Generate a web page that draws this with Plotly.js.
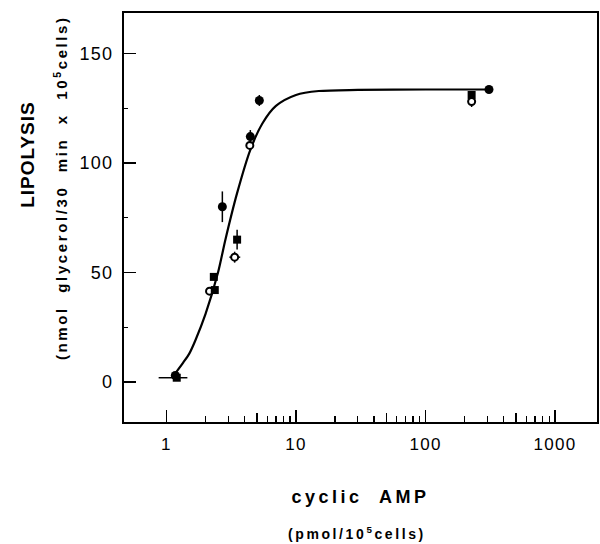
<!DOCTYPE html>
<html>
<head>
<meta charset="utf-8">
<script src="https://cdn.plot.ly/plotly-3.0.1.min.js"></script>
<style>
  html, body { margin: 0; padding: 0; background: #fff; }
  #chart { width: 600px; height: 544px; }
  .xtick text, .ytick text { letter-spacing: 1.3px; }
  .xtitle { letter-spacing: 3.5px; }
  .annotation-text { letter-spacing: 2.6px; }
  .annotation[data-index="0"] .annotation-text { letter-spacing: 1px; }
</style>
</head>
<body>
<div id="chart"></div>
<script>
// ---- data ----
const curveX = [1.17, 1.35, 1.5, 1.67, 2.0, 2.5, 2.85, 3.5, 4.44, 5.5, 7, 10, 15, 30, 100, 309];
const curveY = [4, 9, 13, 19, 31, 50, 65, 86, 106, 118, 126, 131, 132.8, 133.3, 133.5, 133.5];

const filledCircleX = [1.17, 2.70, 4.44, 5.21, 309];
const filledCircleY = [3, 80, 112, 128.5, 133.5];
const filledCircleErr = [0, 7, 3, 2.5, 0];

const filledSquareX = [1.2, 2.32, 2.36, 3.51, 227];
const filledSquareY = [2, 48, 42, 65, 131];
const filledSquareErr = [0, 0, 0, 4.5, 0];
const filledSquareErrXPlus = [0.25, 0, 0, 0, 0];
const filledSquareErrXMinus = [0.33, 0, 0, 0, 0];

const openCircleX = [2.15, 3.36, 4.4, 227];
const openCircleY = [41.5, 57, 108, 128];
const openCircleErr = [0, 2.5, 0, 2.5];
const openCircleErrXPlus = [0, 0.35, 0, 0];
const openCircleErrXMinus = [0, 0.3, 0, 0];

const xTickVals = [1, 10, 100, 1000];
const xTickText = ['1', '10', '100', '1000'];
const xMinorVals = [2,3,4,5,6,7,8,9,20,30,40,50,60,70,80,90,200,300,400,500,600,700,800,900];
const xMidVals = [5, 50, 500];
const yTickVals = [0, 50, 100, 150];
const yMinorVals = [25, 75, 125];

const ebY = (arr) => ({type: 'data', array: arr, visible: true, color: '#000', thickness: 1.5, width: 0});

const traces = [
  {x: curveX, y: curveY, type: 'scatter', mode: 'lines',
   line: {color: '#000', width: 2.2, shape: 'spline', smoothing: 0.8}, hoverinfo: 'skip', showlegend: false},
  {x: openCircleX, y: openCircleY, type: 'scatter', mode: 'markers', showlegend: false,
   marker: {symbol: 'circle', size: 7, color: '#fff', line: {color: '#000', width: 2}},
   error_y: ebY(openCircleErr),
   error_x: {type: 'data', array: openCircleErrXPlus, arrayminus: openCircleErrXMinus, visible: true, color: '#000', thickness: 1.5, width: 0}},
  {x: filledSquareX, y: filledSquareY, type: 'scatter', mode: 'markers', showlegend: false,
   marker: {symbol: 'square', size: 8, color: '#000'},
   error_y: ebY(filledSquareErr),
   error_x: {type: 'data', array: filledSquareErrXPlus, arrayminus: filledSquareErrXMinus, visible: true, color: '#000', thickness: 1.5, width: 0}},
  {x: filledCircleX, y: filledCircleY, type: 'scatter', mode: 'markers', showlegend: false,
   marker: {symbol: 'circle', size: 9, color: '#000'},
   error_y: ebY(filledCircleErr)},
  {x: [1], y: [0], xaxis: 'x2', type: 'scatter', mode: 'markers', marker: {opacity: 0}, hoverinfo: 'skip', showlegend: false}
];

const tickFont = {family: 'Liberation Sans, Arial, sans-serif', size: 17, color: '#000'};
const xr = [-0.328, 3.324];

const layout = {
  width: 600, height: 544,
  margin: {l: 124, r: 3, t: 13, b: 122},
  paper_bgcolor: '#fff', plot_bgcolor: '#fff',
  showlegend: false,
  xaxis: {
    type: 'log', range: xr,
    showgrid: false, zeroline: false,
    showline: true, linecolor: '#000', linewidth: 2, mirror: true,
    ticks: 'inside', ticklen: 12, tickwidth: 1.5, tickcolor: '#000',
    tickvals: xTickVals, ticktext: xTickText, tickfont: tickFont,
    ticklabelstandoff: 6,
    minor: {tickvals: xMinorVals, ticks: 'inside', ticklen: 6, tickwidth: 1.2, tickcolor: '#000', showgrid: false},
    title: {text: 'cyclic  AMP', font: {family: 'Liberation Sans, Arial, sans-serif', size: 18, weight: 'bold', color: '#000'}, standoff: 37}
  },
  xaxis2: {
    type: 'log', range: xr, overlaying: 'x', anchor: 'y', side: 'bottom',
    showgrid: false, zeroline: false, showline: false,
    ticks: 'inside', ticklen: 9, tickwidth: 1.2, tickcolor: '#000',
    tickvals: xMidVals, showticklabels: false
  },
  yaxis: {
    range: [-18.2, 168.4],
    showgrid: false, zeroline: false,
    showline: true, linecolor: '#000', linewidth: 2, mirror: true,
    ticks: 'inside', ticklen: 12, tickwidth: 1.5, tickcolor: '#000',
    tickvals: yTickVals, tickfont: {family: 'Liberation Sans, Arial, sans-serif', size: 18, color: '#000'},
    ticklabelstandoff: 5,
    minor: {tickvals: yMinorVals, ticks: 'inside', ticklen: 4, tickwidth: 1.2, tickcolor: '#000', showgrid: false}
  },
  annotations: [
    {text: 'LIPOLYSIS', xref: 'paper', yref: 'paper', x: 0, y: (422 - 155) / 409, xshift: -97,
     xanchor: 'center', yanchor: 'middle', textangle: -90, showarrow: false,
     font: {family: 'Liberation Sans, Arial, sans-serif', size: 19, weight: 'bold', color: '#000'}},
    {text: '(nmol  glycerol/30  min  x  10<sup>5</sup>cells)', xref: 'paper', yref: 'paper', x: 0, y: (422 - 188) / 409, xshift: -64,
     xanchor: 'center', yanchor: 'middle', textangle: -90, showarrow: false,
     font: {family: 'Liberation Sans, Arial, sans-serif', size: 15, weight: 'bold', color: '#000'}},
    {text: '(pmol/10<sup>5</sup>cells)', xref: 'paper', yref: 'paper', x: (357 - 124) / 473, y: 0, yshift: -111,
     xanchor: 'center', yanchor: 'middle', showarrow: false,
     font: {family: 'Liberation Sans, Arial, sans-serif', size: 14, weight: 'bold', color: '#000'}}
  ]
};

Plotly.newPlot('chart', traces, layout, {displayModeBar: false, staticPlot: true});
</script>
</body>
</html>
